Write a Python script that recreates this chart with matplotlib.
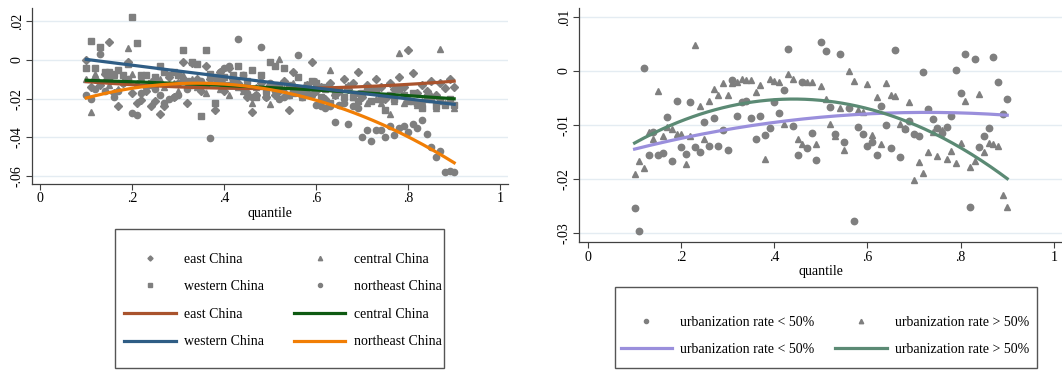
import numpy as np
import matplotlib
matplotlib.use('Agg')
import matplotlib.pyplot as plt
from matplotlib.patches import Rectangle

plt.rcParams['font.family'] = ['Liberation Serif', 'DejaVu Serif']
plt.rcParams['font.size'] = 10

# quantile grid 0.10 ... 0.90
q = np.round(np.arange(0.10, 0.905, 0.01), 2)

# ---- left panel: regional coefficients ----
east = [0.000, -0.014, -0.010, -0.013, -0.007, 0.0095, -0.017, -0.024, -0.012, -0.001,
        -0.017, -0.022, -0.0205, -0.016, -0.024, -0.021, -0.028, -0.024, -0.009, -0.019,
        -0.012, -0.001, -0.022, -0.0015, -0.010, -0.016, -0.003, -0.010, -0.026, -0.006,
        -0.016, -0.004, -0.010, -0.012, -0.015, -0.019, -0.0267, -0.018, -0.012, -0.019,
        -0.013, -0.018, -0.016, -0.011, -0.026, -0.006, -0.015, -0.018, -0.013, -0.0012,
        -0.016, -0.014, -0.020, -0.012, -0.018, -0.016, -0.0098, -0.015, -0.012, -0.006,
        -0.019, -0.013, -0.016, -0.010, -0.014, -0.020, -0.012, -0.015, -0.009, -0.014,
        0.005, -0.0065, -0.017, -0.013, -0.016, -0.011, -0.018, -0.012, -0.0145, -0.010,
        -0.014]
western = [-0.004, 0.010, -0.004, 0.0065, -0.006, -0.006, -0.007, -0.005, -0.008, -0.002,
           0.0225, 0.0086, -0.008, -0.008, -0.012, -0.009, -0.003, -0.006, -0.008, -0.006,
           -0.008, 0.005, -0.011, -0.001, -0.002, -0.029, 0.005, -0.007, -0.022, -0.010,
           -0.009, -0.013, -0.008, -0.003, -0.008, -0.011, -0.005, -0.019, -0.008, -0.016,
           -0.001, -0.003, -0.013, -0.004, -0.013, -0.017, -0.009, -0.016, -0.013, -0.011,
           -0.012, -0.019, -0.014, -0.022, -0.017, -0.016, -0.019, -0.014, -0.019, -0.021,
           -0.017, -0.016, -0.021, -0.015, -0.020, -0.026, -0.018, -0.020, -0.015, -0.018,
           -0.021, -0.017, -0.022, -0.025, -0.019, -0.020, -0.024, -0.021, -0.023, -0.020,
           -0.023]
central = [-0.010, -0.027, -0.007, -0.012, -0.010, -0.013, -0.008, -0.015, -0.011, 0.006,
           -0.007, -0.012, -0.009, -0.015, -0.011, -0.013, -0.010, -0.014, -0.008, -0.012,
           -0.016, -0.008, -0.013, -0.010, -0.014, -0.012, -0.017, -0.009, -0.011, -0.015,
           -0.012, -0.018, -0.010, -0.014, -0.016, -0.012, -0.022, -0.014, -0.010, -0.017,
           -0.0225, -0.013, 0.0005, -0.015, -0.018, -0.012, -0.016, -0.019, -0.014, -0.017,
           -0.011, -0.020, -0.015, -0.005, -0.018, -0.016, -0.021, -0.013, -0.019, -0.017,
           -0.018, -0.022, -0.015, -0.020, -0.022, -0.019, -0.028, -0.021, 0.0035, -0.022,
           -0.019, -0.021, -0.023, -0.021, -0.020, -0.018, -0.025, 0.0055, -0.022, -0.021,
           -0.025]
northeast = [-0.018, -0.020, -0.015, 0.003, -0.016, -0.010, -0.019, -0.016, -0.012, -0.010,
             -0.0275, -0.0285, -0.017, -0.014, -0.013, -0.015, -0.018, -0.022, -0.020, -0.019,
             -0.018, -0.010, -0.015, -0.013, -0.012, -0.011, -0.013, -0.0405, -0.009, -0.006,
             -0.004, -0.003, -0.011, 0.011, -0.008, -0.017, -0.019, -0.018, 0.0065, -0.019,
             -0.012, -0.016, -0.020, -0.019, -0.018, -0.014, 0.0024, -0.019, -0.017, -0.018,
             -0.023, -0.024, -0.025, -0.024, -0.032, -0.023, -0.022, -0.033, -0.024, -0.025,
             -0.040, -0.036, -0.042, -0.036, -0.036, -0.040, -0.034, -0.039, -0.035, -0.034,
             -0.037, -0.033, -0.035, -0.031, -0.038, -0.045, -0.050, -0.047, -0.058, -0.0575,
             -0.058]

# ---- right panel: urbanization groups ----
urb_low = [-0.0253, -0.0297, 0.0006, -0.0156, -0.0112, -0.0155, -0.0152, -0.0086, -0.0166, -0.0055,
           -0.0141, -0.0154, -0.0057, -0.0140, -0.0149, -0.0095, -0.0138, -0.0087, -0.0138, -0.0109,
           -0.0147, -0.0017, -0.0084, -0.0058, -0.0055, -0.0087, -0.0125, -0.0084, -0.0119, -0.0105,
           -0.0058, -0.0077, -0.0036, 0.0041, -0.0101, -0.0155, -0.0021, -0.0143, -0.0114, -0.0164,
           0.0053, 0.0037, -0.0067, -0.0116, 0.0032, -0.0132, -0.0068, -0.0277, -0.0104, -0.0117,
           -0.0138, -0.0131, -0.0156, -0.0065, -0.0100, -0.0143, 0.0038, -0.0159, -0.0108, -0.0092,
           -0.0117, -0.0120, -0.0002, -0.0071, -0.0089, -0.0106, -0.0115, -0.0103, -0.0083, 0.0002,
           -0.0041, 0.0031, -0.0252, 0.0022, -0.0141, -0.0121, -0.0106, 0.0026, -0.0021, -0.0080,
           -0.0051]
urb_high = [-0.0190, -0.0166, -0.0180, -0.0113, -0.0125, -0.0037, -0.0121, -0.0103, -0.0108, -0.0117,
            -0.0117, -0.0172, -0.0120, 0.0049, -0.0065, -0.0126, -0.0055, -0.0033, -0.0044, -0.0023,
            -0.0044, -0.0023, -0.0021, -0.0015, -0.0017, -0.0017, -0.0038, -0.0026, -0.0162, -0.0014,
            -0.0018, -0.0020, -0.0099, -0.0006, -0.0014, -0.0126, -0.0135, -0.0020, -0.0021, -0.0135,
            -0.0028, -0.0052, -0.0098, -0.0121, -0.0069, -0.0146, 0.0000, -0.0018, -0.0072, -0.0075,
            -0.0025, -0.0118, -0.0049, -0.0136, -0.0023, -0.0045, -0.0047, -0.0098, -0.0106, -0.0058,
            -0.0201, -0.0168, -0.0189, -0.0149, -0.0112, -0.0158, -0.0110, -0.0163, -0.0148, -0.0170,
            -0.0133, -0.0055, -0.0178, -0.0167, -0.0043, -0.0149, -0.0133, -0.0135, -0.0138, -0.0229,
            -0.0251]

x_ticks = [0, 0.2, 0.4, 0.6, 0.8, 1.0]
x_labels = ['0', '.2', '.4', '.6', '.8', '1']
left_yticks = [-0.06, -0.04, -0.02, 0, 0.02]
left_ylabels = ['-.06', '-.04', '-.02', '0', '.02']
right_yticks = [-0.03, -0.02, -0.01, 0, 0.01]
right_ylabels = ['-.03', '-.02', '-.01', '0', '.01']

W, H = 1062, 371
GREY = '#7f7f7f'
AXC = '#404040'


def style(ax, yticks, ylabels, xlim, ylim):
    ax.set_xlim(xlim)
    ax.set_ylim(ylim)
    ax.set_xticks(x_ticks)
    ax.set_xticklabels(x_labels)
    ax.set_yticks(yticks)
    ax.set_yticklabels(ylabels, rotation=90, va='center')
    for s in ['top', 'right']:
        ax.spines[s].set_visible(False)
    for s in ['left', 'bottom']:
        ax.spines[s].set_color(AXC)
        ax.spines[s].set_linewidth(0.9)
    ax.tick_params(direction='out', length=4, width=0.8, color=AXC, labelsize=10, pad=2)
    ax.grid(axis='y', color='#e4ecf2', lw=1)
    ax.set_axisbelow(True)
    ax.set_xlabel('quantile', labelpad=1)


def qfit(ax, y, color):
    # quadratic fit line, like Stata's qfit
    xs = np.linspace(q[0], q[-1], 200)
    coef = np.polyfit(q, y, 2)
    return ax.plot(xs, np.polyval(coef, xs), color=color, lw=2.3)[0]


fig = plt.figure(figsize=(W / 100, H / 100), dpi=100)
ax1 = fig.add_axes([32 / W, 1 - 184 / H, 476 / W, 176 / H])
ax2 = fig.add_axes([579.3 / W, 1 - 242.3 / H, (W - 579.3) / W, 234 / H])

# left panel
s_e, = ax1.plot(q, east, 'D', color=GREY, ms=4.0, ls='none')
s_w, = ax1.plot(q, western, 's', color=GREY, ms=4.3, ls='none')
s_c, = ax1.plot(q, central, '^', color=GREY, ms=4.8, ls='none')
s_n, = ax1.plot(q, northeast, 'o', color=GREY, ms=4.5, ls='none')
l_e = qfit(ax1, east, '#a9532d')
l_c = qfit(ax1, central, '#0e5a12')
l_w = qfit(ax1, western, '#2f5d85')
l_n = qfit(ax1, northeast, '#f17e05')
style(ax1, left_yticks, left_ylabels, (-0.018, 1.017), (-0.0641, 0.0269))

# right panel
s_lo, = ax2.plot(q, urb_low, 'o', color=GREY, ms=4.6, ls='none')
s_hi, = ax2.plot(q, urb_high, '^', color=GREY, ms=4.9, ls='none')
l_lo = qfit(ax2, urb_low, '#9a8fdc')
l_hi = qfit(ax2, urb_high, '#5b8a74')
style(ax2, right_yticks, right_ylabels, (-0.0187, 1.0176), (-0.0317, 0.0116))

# legend boxes
for x0, y0, x1, y1 in [(115, 229, 444, 368), (615, 287, 1037, 368)]:
    fig.patches.append(Rectangle((x0 / W, 1 - y1 / H), (x1 - x0) / W, (y1 - y0) / H,
                                 transform=fig.transFigure, fill=False,
                                 edgecolor='#555555', lw=1))

leg_kw = dict(ncol=2, loc='center', frameon=False, fontsize=10, borderpad=0,
              handlelength=3.7, handletextpad=0.6, markerscale=0.65, numpoints=1)
fig.legend([s_e, s_w, l_e, l_w, s_c, s_n, l_c, l_n],
           ['east China', 'western China', 'east China', 'western China',
            'central China', 'northeast China', 'central China', 'northeast China'],
           bbox_to_anchor=(283 / W, 1 - 300.5 / H), labelspacing=1.05,
           columnspacing=2.15, **leg_kw)
fig.legend([s_lo, l_lo, s_hi, l_hi],
           ['urbanization rate < 50%', 'urbanization rate < 50%',
            'urbanization rate > 50%', 'urbanization rate > 50%'],
           bbox_to_anchor=(825 / W, 1 - 336 / H), labelspacing=1.0,
           columnspacing=1.5, **leg_kw)

fig.savefig('out.png', dpi=100)
